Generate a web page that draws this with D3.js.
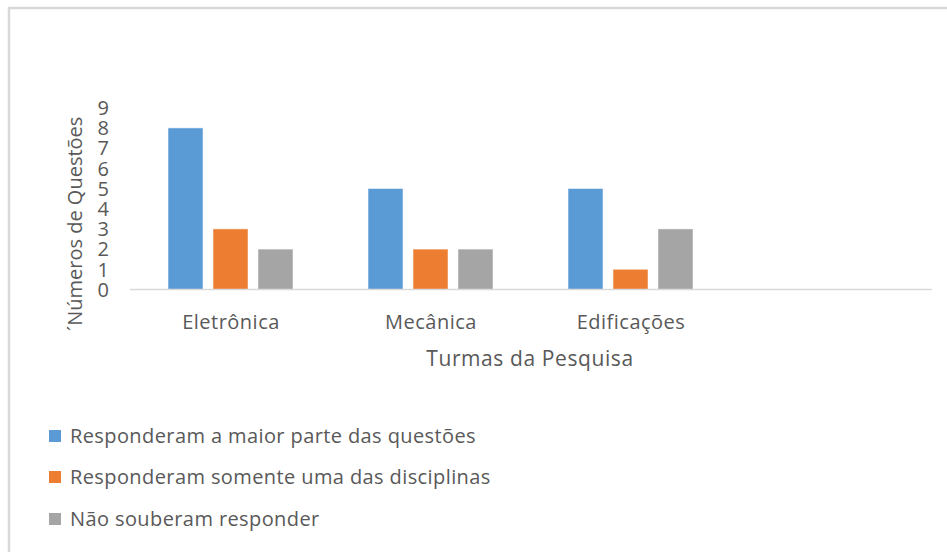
<!DOCTYPE html>
<html><head><meta charset="utf-8">
<script src="https://cdn.jsdelivr.net/npm/d3@7/dist/d3.min.js"></script>
<style>body{margin:0;background:#fff}svg{display:block}text{font-family:"Open Sans",sans-serif;fill:#595959}</style>
</head><body><svg id="c" width="947" height="552"></svg>
<script>
const categories = ["Eletrônica", "Mecânica", "Edificações"];
const seriesNames = ["Responderam a maior parte das questões", "Responderam somente uma das disciplinas", "Não souberam responder"];
const seriesA = [8, 5, 5];
const seriesB = [3, 2, 1];
const seriesC = [2, 2, 3];
const yTicks = [0, 1, 2, 3, 4, 5, 6, 7, 8, 9];
const colors = ["#5b9bd5", "#ed7d31", "#a5a5a5"];
const values = [seriesA, seriesB, seriesC];

const svg = d3.select("#c");
// chart frame (only top/left visible)
svg.append("rect").attr("x", 9).attr("y", 8).attr("width", 1000).attr("height", 600)
  .attr("fill", "none").attr("stroke", "#d9d9d9").attr("stroke-width", 2.5);

const x0 = d3.scaleBand().domain([...categories, ""]).range([130, 930]).padding(0);
const x1 = d3.scaleBand().domain(seriesNames).range([38, 163]).paddingInner(0.222).paddingOuter(0);
const y = d3.scaleLinear().domain([0, 9]).range([289.5, 107.7]);

const g = svg.append("g");
categories.forEach((c, i) => {
  seriesNames.forEach((s, j) => {
    g.append("rect")
      .attr("x", x0(c) + x1(s))
      .attr("y", y(values[j][i]))
      .attr("width", x1.bandwidth())
      .attr("height", y(0) - y(values[j][i]))
      .attr("fill", colors[j])
      .attr("stroke", "#ffffff").attr("stroke-opacity", 0.5).attr("stroke-width", 1);
  });
});

// baseline
svg.append("line").attr("x1", 130).attr("x2", 932).attr("y1", y(0)).attr("y2", y(0))
  .attr("stroke", "#d9d9d9").attr("stroke-width", 1.5);

// y tick labels
svg.append("g").selectAll("text").data(yTicks).join("text")
  .attr("x", 109).attr("y", d => y(d)).attr("dy", "0.36em")
  .attr("text-anchor", "end").attr("font-size", 20).text(d => d);

// x labels
svg.append("g").selectAll("text").data(categories).join("text")
  .attr("x", d => x0(d) + x0.bandwidth() / 2 + 1).attr("y", 329)
  .attr("text-anchor", "middle").attr("font-size", 20).attr("letter-spacing", 0.5).text(d => d);

// axis titles
svg.append("text").attr("x", 530).attr("y", 366).attr("text-anchor", "middle")
  .attr("font-size", 21).attr("letter-spacing", 0.6).text("Turmas da Pesquisa");
svg.append("text").attr("transform", "translate(82,224) rotate(-90)").attr("text-anchor", "middle")
  .attr("font-size", 20).text("´Números de Questões");

// legend
const ly = [436, 477, 519];
seriesNames.forEach((s, j) => {
  svg.append("rect").attr("x", 49).attr("y", ly[j] - 6).attr("width", 12).attr("height", 12).attr("fill", colors[j]);
  svg.append("text").attr("x", 70).attr("y", ly[j]).attr("dy", "0.35em").attr("font-size", 20)
    .attr("letter-spacing", 0.4).text(s);
});
</script></body></html>
